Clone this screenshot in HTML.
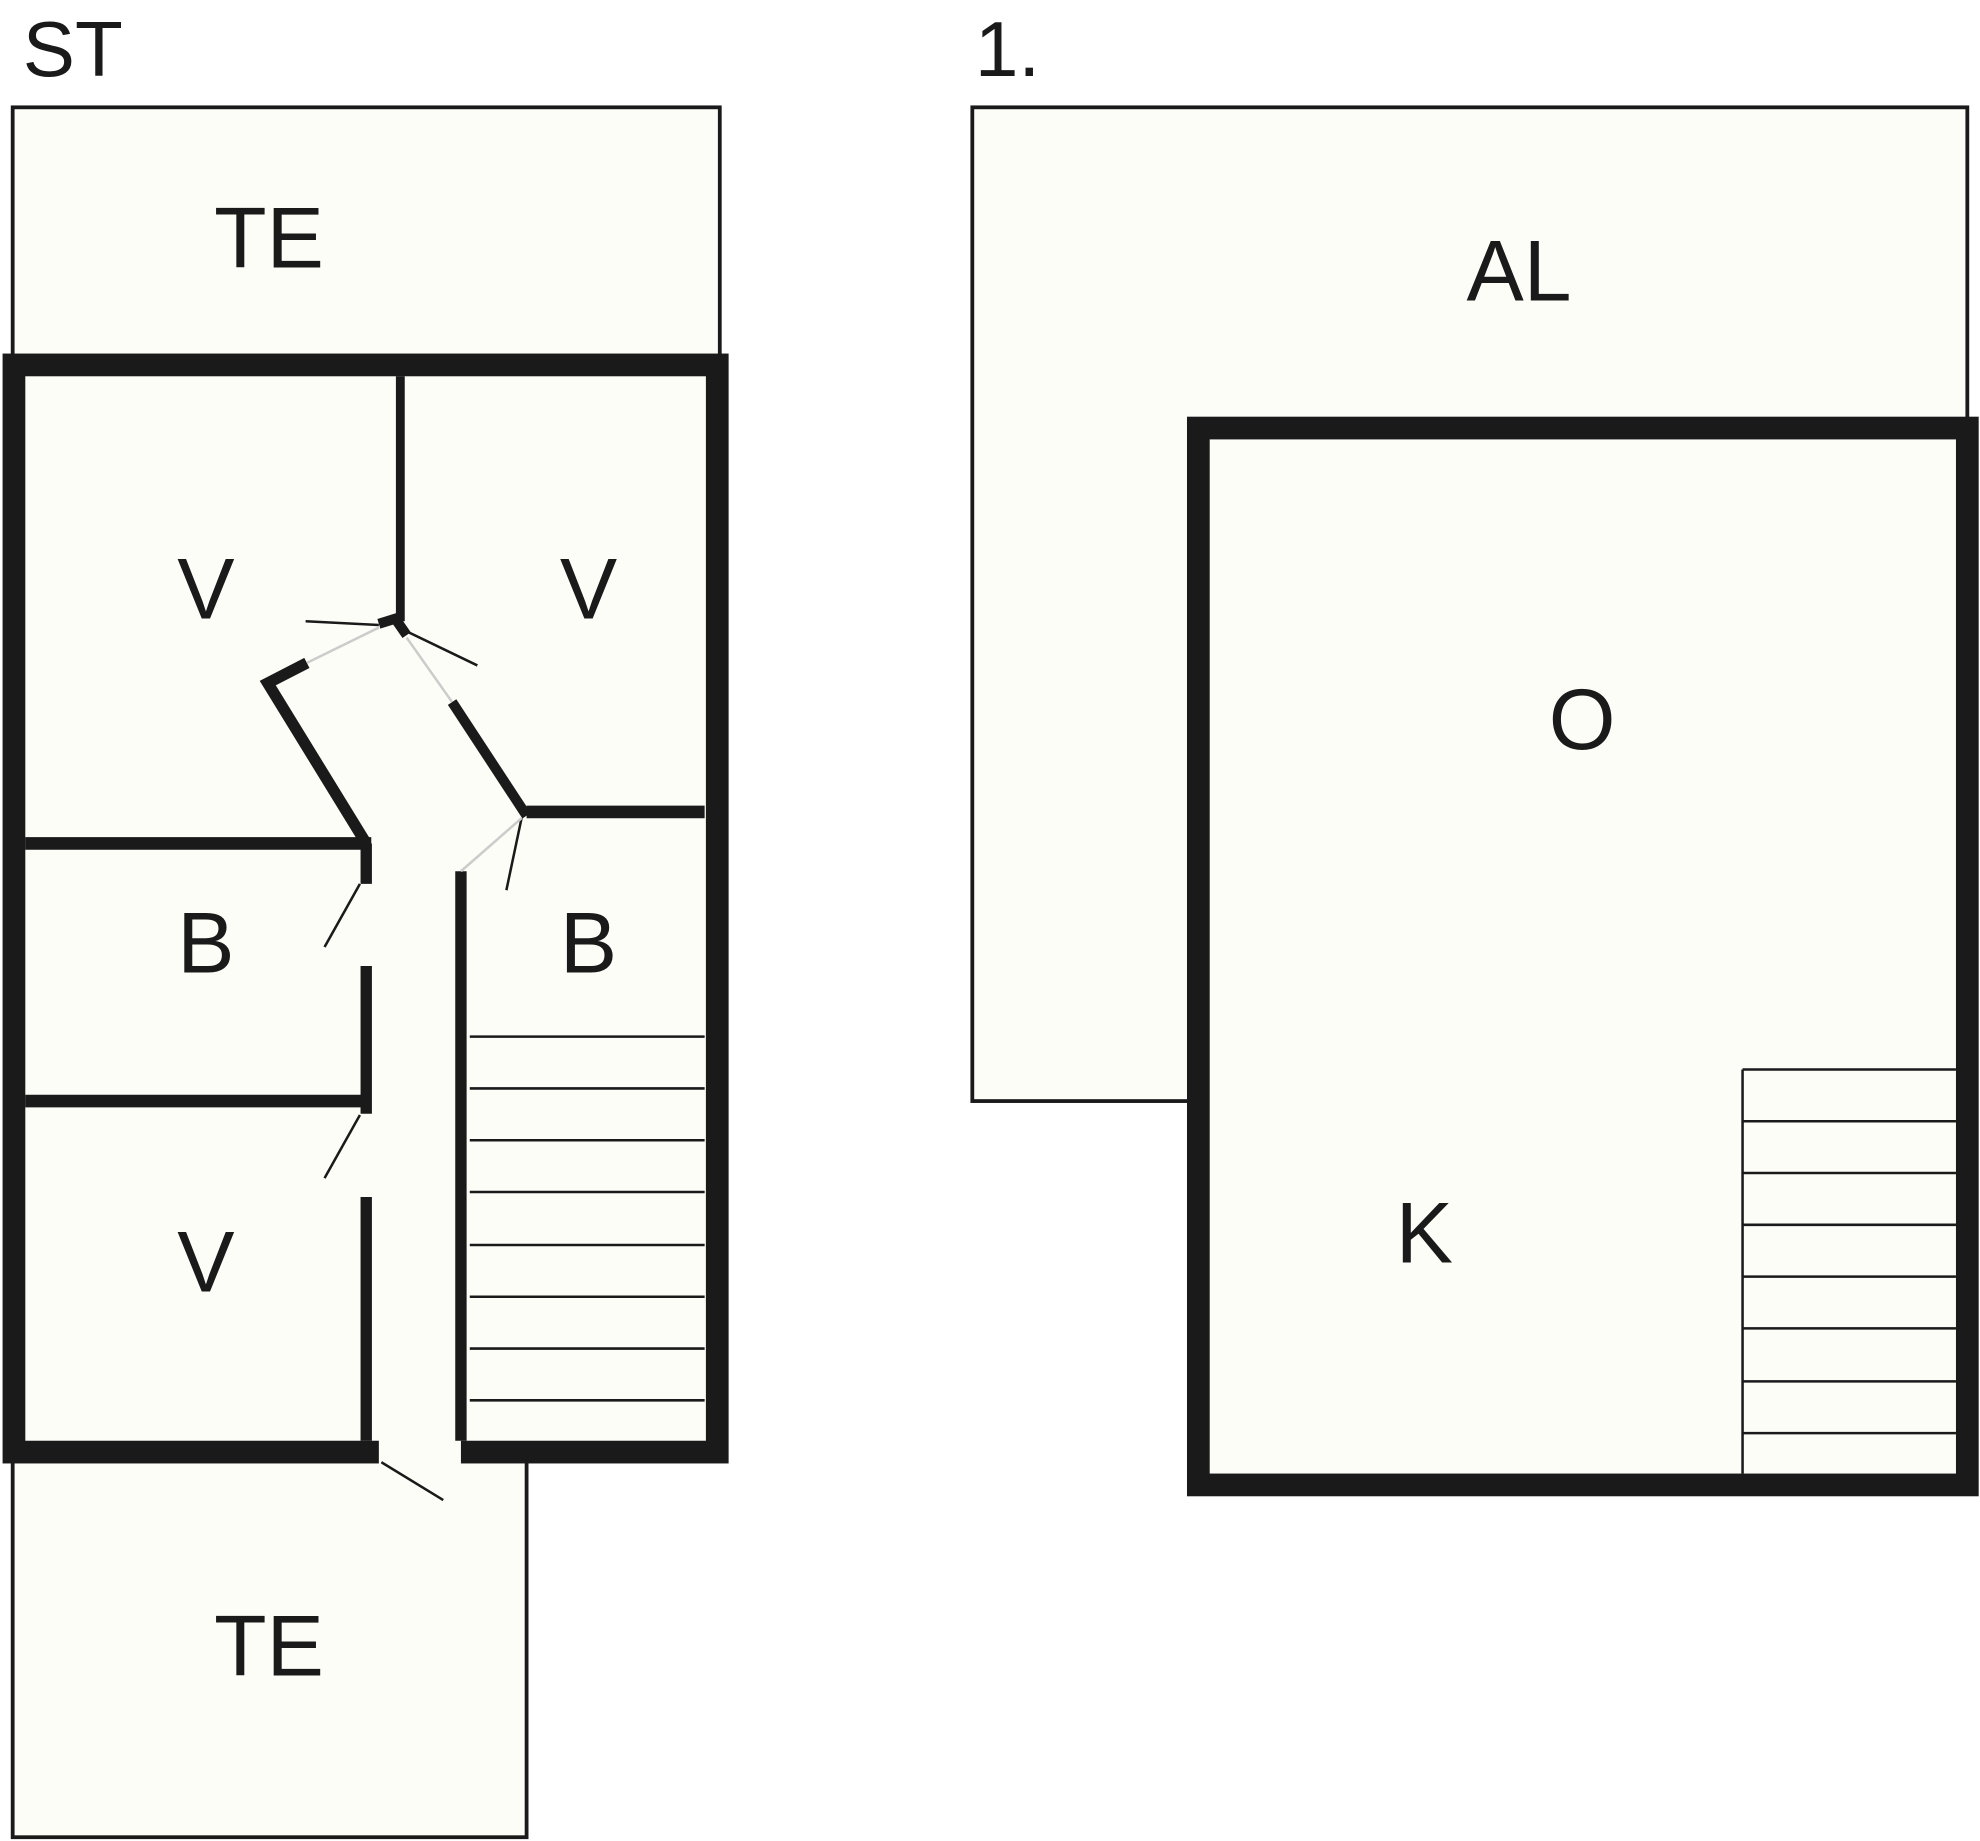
<!DOCTYPE html>
<html><head><meta charset="utf-8"><style>
html,body{margin:0;padding:0;background:#fff}
svg{display:block}
text{font-family:"Liberation Sans",sans-serif;fill:#1a1a1a}
</style></head><body>
<svg width="1980" height="1841" viewBox="0 0 1568 1458" xmlns="http://www.w3.org/2000/svg">
<rect width="1568" height="1458" fill="#fff"/>
<g fill="#fdfdf8" stroke="#1a1a1a" stroke-width="3">
<rect x="10" y="85" width="560" height="200"/>
<rect x="10" y="1155" width="407" height="300"/>
<rect x="770" y="85" width="788" height="787"/>
</g>
<!-- ST main -->
<rect x="11" y="289" width="557" height="861" fill="#fdfdf8" stroke="#1a1a1a" stroke-width="18"/>
<rect x="300" y="1140" width="65" height="22" fill="#fdfdf8"/>
<g stroke="#1a1a1a" fill="none" stroke-linecap="butt">
<line x1="317" y1="298" x2="317" y2="492" stroke-width="7"/>
<line x1="417" y1="643" x2="558" y2="643" stroke-width="10"/>
<polyline points="417,646 358,556" stroke-width="8"/>
<line x1="20" y1="668" x2="294" y2="668" stroke-width="10"/>
<polyline points="290,668 212,541 243,525" stroke-width="9"/>
<line x1="20" y1="872" x2="294" y2="872" stroke-width="10"/>
<line x1="290" y1="668" x2="290" y2="700" stroke-width="9"/>
<line x1="290" y1="765" x2="290" y2="882" stroke-width="9"/>
<line x1="290" y1="948" x2="290" y2="1141" stroke-width="9"/>
<line x1="365" y1="690" x2="365" y2="1141" stroke-width="9"/>
<polyline points="300,494 313,490 322,503" stroke-width="8"/>
<g stroke-width="2">
<line x1="242" y1="492" x2="300" y2="495"/>
<line x1="322" y1="500" x2="378" y2="527"/>
<line x1="413" y1="648" x2="401" y2="705"/>
<line x1="285" y1="700" x2="257" y2="750"/>
<line x1="285" y1="883" x2="257" y2="933"/>
<line x1="302" y1="1158" x2="351" y2="1188"/>
<line x1="243" y1="525" x2="300" y2="497" stroke="#ccc"/>
<line x1="322" y1="505" x2="358" y2="556" stroke="#ccc"/>
<line x1="413" y1="648" x2="365" y2="690" stroke="#ccc"/>
</g>
<g stroke-width="2">
<line x1="372" y1="821" x2="558" y2="821"/>
<line x1="372" y1="862" x2="558" y2="862"/>
<line x1="372" y1="903" x2="558" y2="903"/>
<line x1="372" y1="944" x2="558" y2="944"/>
<line x1="372" y1="986" x2="558" y2="986"/>
<line x1="372" y1="1027" x2="558" y2="1027"/>
<line x1="372" y1="1068" x2="558" y2="1068"/>
<line x1="372" y1="1109" x2="558" y2="1109"/>
</g>
</g>
<!-- 1. floor -->
<rect x="949" y="339" width="609" height="837" fill="#fdfdf8" stroke="#1a1a1a" stroke-width="18"/>
<g stroke="#1a1a1a" stroke-width="2">
<line x1="1380" y1="847" x2="1380" y2="1167"/>
<line x1="1380" y1="847" x2="1549" y2="847"/>
<line x1="1380" y1="888" x2="1549" y2="888"/>
<line x1="1380" y1="929" x2="1549" y2="929"/>
<line x1="1380" y1="970" x2="1549" y2="970"/>
<line x1="1380" y1="1011" x2="1549" y2="1011"/>
<line x1="1380" y1="1052" x2="1549" y2="1052"/>
<line x1="1380" y1="1094" x2="1549" y2="1094"/>
<line x1="1380" y1="1135" x2="1549" y2="1135"/>
</g>
<g font-size="68" text-anchor="middle">
<text x="213" y="212">TE</text>
<text x="163" y="490">V</text>
<text x="466" y="490">V</text>
<text x="163" y="770">B</text>
<text x="466" y="770">B</text>
<text x="163" y="1023">V</text>
<text x="213" y="1327">TE</text>
<text x="1203" y="238">AL</text>
<text x="1253" y="593">O</text>
<text x="1128" y="1000">K</text>
</g>
<text x="18" y="60" font-size="62">ST</text>
<text x="772" y="60" font-size="62">1.</text>
</svg>
</body></html>
